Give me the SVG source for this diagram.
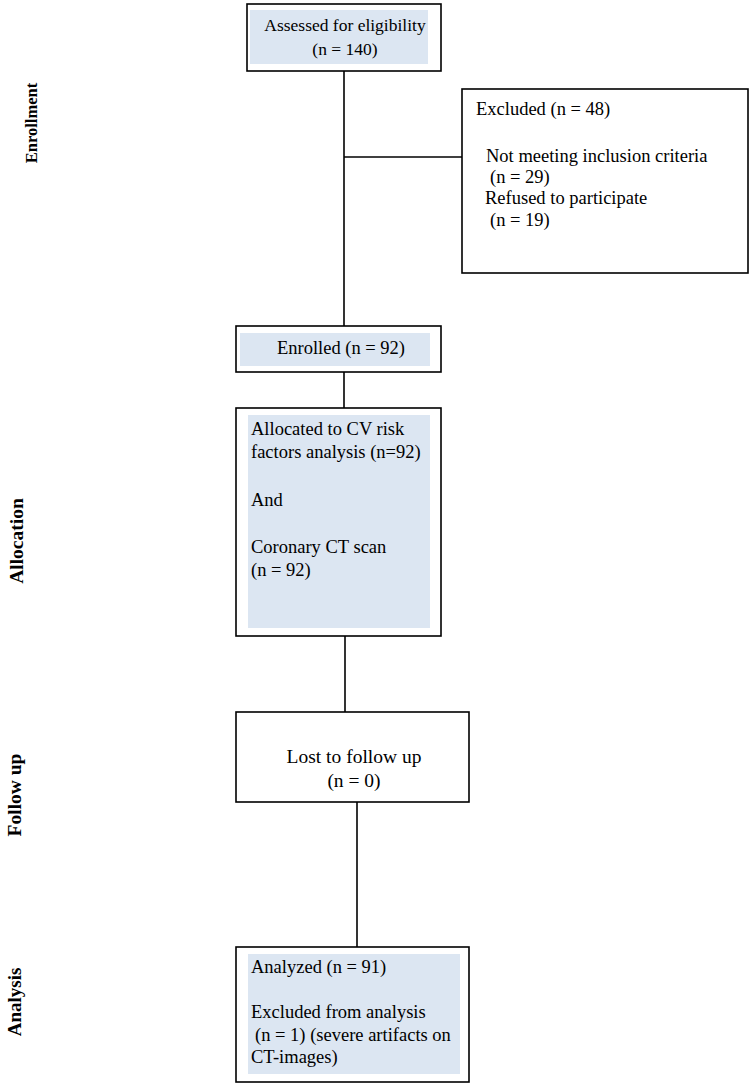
<svg xmlns="http://www.w3.org/2000/svg" width="756" height="1089" viewBox="0 0 756 1089">
<style>
.box{fill:#ffffff;stroke:#000;stroke-width:1.6}
.fill{fill:#dce6f2}
.t{font-family:"Liberation Serif","Times New Roman",serif;font-size:18.5px;fill:#000}
.c{text-anchor:middle}
.side{font-family:"Liberation Serif","Times New Roman",serif;font-weight:bold;fill:#000;text-anchor:middle}
.ln{stroke:#000;stroke-width:1.6;fill:none}
</style>
<rect width="756" height="1089" fill="#fff"/>
<g id="labels">
<text class="side" style="font-size:16.5px" transform="translate(37,123) rotate(-90)">Enrollment</text>
<text class="side" style="font-size:19.5px" transform="translate(23,541) rotate(-90)">Allocation</text>
<text class="side" style="font-size:19.5px" transform="translate(21,795) rotate(-90)">Follow up</text>
<text class="side" style="font-size:19px" transform="translate(21,1002) rotate(-90)">Analysis</text>
</g>
<g id="connectors">
<line class="ln" x1="344" y1="71" x2="344" y2="326"/>
<line class="ln" x1="344" y1="157" x2="462" y2="157"/>
<line class="ln" x1="344" y1="372" x2="344" y2="408"/>
<line class="ln" x1="345" y1="636" x2="345" y2="712"/>
<line class="ln" x1="357" y1="802" x2="357" y2="947"/>
</g>
<g id="assessed">
<rect class="box" x="247" y="4" width="194" height="67"/>
<rect class="fill" x="250" y="10" width="178" height="54"/>
<text class="t c" x="345" y="31" style="font-size:17.5px">Assessed for eligibility</text>
<text class="t c" x="345" y="55" style="font-size:17.5px">(n = 140)</text>
</g>
<g id="excluded">
<rect class="box" x="462" y="89" width="286" height="184"/>
<text class="t" x="476" y="115">Excluded (n = 48)</text>
<text class="t" x="486" y="162">Not meeting inclusion criteria</text>
<text class="t" x="490" y="183">(n = 29)</text>
<text class="t" x="485" y="204">Refused to participate</text>
<text class="t" x="490" y="226">(n = 19)</text>
</g>
<g id="enrolled">
<rect class="box" x="236" y="326" width="205" height="46"/>
<rect class="fill" x="240" y="333" width="190" height="33"/>
<text class="t c" x="341" y="354">Enrolled (n = 92)</text>
</g>
<g id="allocation">
<rect class="box" x="236" y="408" width="205" height="228"/>
<rect class="fill" x="248" y="415" width="182" height="213"/>
<text class="t" x="251" y="435">Allocated to CV risk</text>
<text class="t" x="251" y="458">factors analysis (n=92)</text>
<text class="t" x="251" y="506">And</text>
<text class="t" x="251" y="553">Coronary CT scan</text>
<text class="t" x="251" y="576">(n = 92)</text>
</g>
<g id="lost">
<rect class="box" x="236" y="712" width="233" height="90"/>
<text class="t c" x="354" y="763" style="font-size:19.5px">Lost to follow up</text>
<text class="t c" x="354" y="787" style="font-size:19.5px">(n = 0)</text>
</g>
<g id="analyzed">
<rect class="box" x="236" y="947" width="233" height="135"/>
<rect class="fill" x="248" y="954" width="212" height="120"/>
<text class="t" x="251" y="973">Analyzed (n = 91)</text>
<text class="t" x="251" y="1018">Excluded from analysis</text>
<text class="t" x="255" y="1041">(n = 1) (severe artifacts on</text>
<text class="t" x="251" y="1063">CT-images)</text>
</g>
</svg>
